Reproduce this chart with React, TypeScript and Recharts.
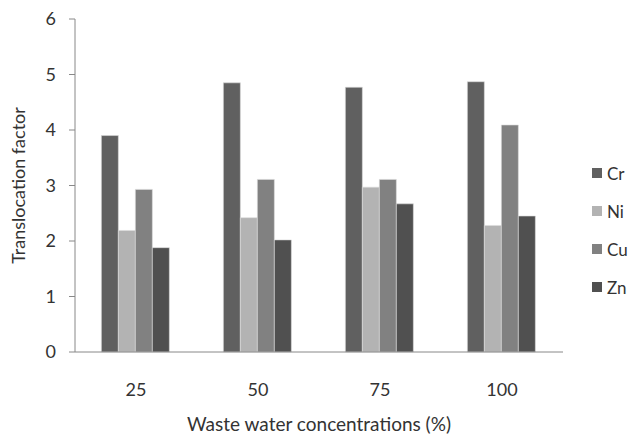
import { BarChart, Bar, XAxis, YAxis, Legend } from 'recharts'

const concentrations = ['25', '50', '75', '100']
const cr = [3.9, 4.85, 4.77, 4.87]
const ni = [2.19, 2.42, 2.97, 2.28]
const cu = [2.93, 3.11, 3.11, 4.09]
const zn = [1.88, 2.02, 2.67, 2.45]
const yTicks = [0, 1, 2, 3, 4, 5, 6]

const series = [
  { key: 'Cr', values: cr, color: '#606060' },
  { key: 'Ni', values: ni, color: '#b3b3b3' },
  { key: 'Cu', values: cu, color: '#818181' },
  { key: 'Zn', values: zn, color: '#505050' },
]

const data = concentrations.map((name, i) => {
  const row: Record<string, string | number> = { name }
  series.forEach((s) => {
    row[s.key] = s.values[i]
  })
  return row
})

const font = 'Lato, "Open Sans", sans-serif'
const textColor = '#333333'
const axisColor = '#888888'
const fs = 18

// legend keeps the series order (recharts would sort it by name)
function LegendBox() {
  return (
    <div style={{ fontFamily: font, fontSize: 17, color: textColor, whiteSpace: 'nowrap' }}>
      {series.map((s) => (
        <div key={s.key} style={{ height: 38, display: 'flex', alignItems: 'center' }}>
          <span style={{ width: 10, height: 10, background: s.color, display: 'inline-block', marginRight: 5 }} />
          <span>{s.key}</span>
        </div>
      ))}
    </div>
  )
}

export default function App() {
  return (
    <div style={{ position: 'absolute', left: 0, top: 0, width: 632, height: 434, background: '#fff', overflow: 'hidden' }}>
      <BarChart
        width={632}
        height={434}
        data={data}
        margin={{ top: 19, right: 69, left: 0, bottom: 0 }}
        barCategoryGap="21.6%"
        barGap={0}
      >
        <XAxis
          dataKey="name"
          height={82}
          tickLine={false}
          axisLine={{ stroke: axisColor }}
          tick={{ fontSize: fs, fill: textColor, fontFamily: font }}
          tickMargin={25}
          label={{
            value: 'Waste water concentrations (%)',
            position: 'insideBottom',
            offset: 3,
            fontSize: 19,
            fill: textColor,
            fontFamily: font,
          }}
        />
        <YAxis
          width={75}
          domain={[0, 6]}
          ticks={yTicks}
          interval={0}
          tickSize={6}
          tickLine={{ stroke: axisColor }}
          axisLine={{ stroke: axisColor }}
          tick={{ fontSize: fs, fill: textColor, fontFamily: font }}
          tickMargin={13}
          label={{
            content: ({ viewBox }: any) => {
              const cy = viewBox.y + viewBox.height / 2
              return (
                <text
                  x={18}
                  y={cy}
                  transform={`rotate(-90 18 ${cy})`}
                  textAnchor="middle"
                  dominantBaseline="central"
                  fontSize={fs}
                  fill={textColor}
                  fontFamily={font}
                >
                  Translocation factor
                </text>
              )
            },
          }}
        />
        <Legend
          layout="vertical"
          align="center"
          verticalAlign="middle"
          wrapperStyle={{ left: 592, top: 154, width: 40 }}
          content={<LegendBox />}
        />
        {series.map((s) => (
          <Bar
            key={s.key}
            dataKey={s.key}
            fill={s.color}
            stroke="#dcdcdc"
            strokeWidth={0.6}
            isAnimationActive={false}
          />
        ))}
      </BarChart>
    </div>
  )
}
